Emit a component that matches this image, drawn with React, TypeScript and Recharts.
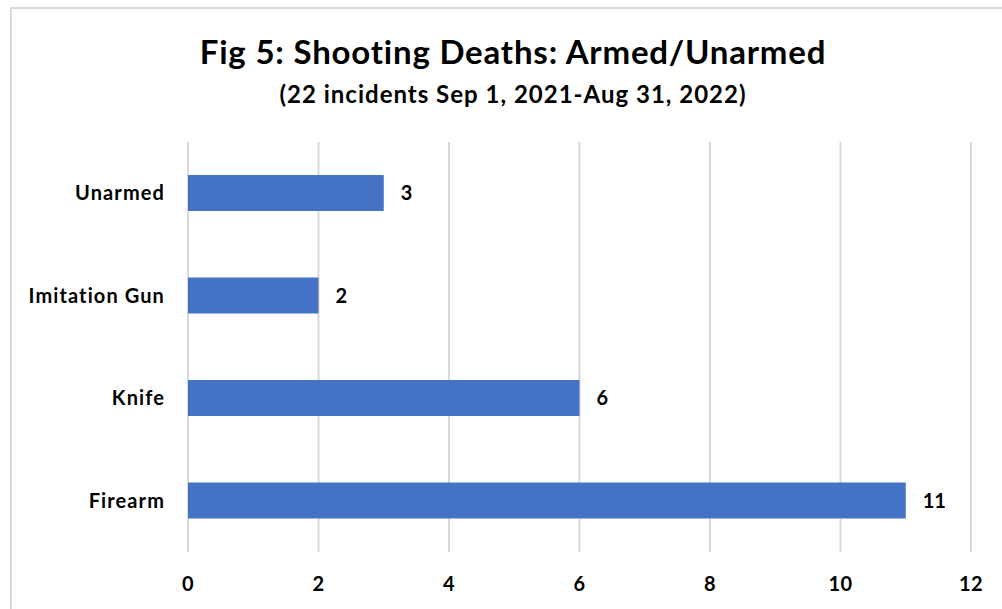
import { Bar, BarChart, CartesianGrid, LabelList, XAxis, YAxis } from "recharts"

const categories = ["Unarmed", "Imitation Gun", "Knife", "Firearm"]
const deaths = [3, 2, 6, 11]
const xTicks = [0, 2, 4, 6, 8, 10, 12]

const data = categories.map((name, i) => ({ name, deaths: deaths[i] }))

const FONT = "Lato, 'Open Sans', sans-serif"

export default function App() {
  return (
    <div style={{ position: "absolute", left: 0, top: 0, width: 1002, height: 609, background: "#fff", overflow: "hidden", fontFamily: FONT }}>
      {/* chart frame */}
      <div style={{ position: "absolute", left: 10, top: 7, width: 1100, height: 700, border: "2px solid #d9d9d9" }} />

      <div style={{ position: "absolute", left: 0, width: 1026, top: 29, textAlign: "center", fontSize: 33, fontWeight: 700, letterSpacing: 0.8, color: "#000", lineHeight: "44px" }}>
        Fig 5: Shooting Deaths: Armed/Unarmed
      </div>
      <div style={{ position: "absolute", left: 0, width: 1026, top: 79, textAlign: "center", fontSize: 24, fontWeight: 700, letterSpacing: 1, color: "#000", lineHeight: "30px" }}>
        (22 incidents Sep 1, 2021-Aug 31, 2022)
      </div>

      <div style={{ position: "absolute", left: 0, top: 0 }}>
        <BarChart
          width={1002}
          height={609}
          data={data}
          layout="vertical"
          margin={{ top: 142, right: 31, bottom: 17, left: 0 }}
        >
          <CartesianGrid horizontal={false} stroke="#d9d9d9" strokeWidth={2} />
          <XAxis
            type="number"
            domain={[0, 12]}
            ticks={xTicks}
            axisLine={false}
            tickLine={false}
            tickSize={0}
            tickMargin={25}
            height={40}
            tick={{ fill: "#000", fontSize: 20, fontWeight: 700, fontFamily: FONT, letterSpacing: 0.5 }}
          />
          <YAxis
            type="category"
            dataKey="name"
            width={188}
            axisLine={false}
            tickLine={false}
            tickSize={0}
            tickMargin={23}
            tick={{ fill: "#000", fontSize: 20, fontWeight: 700, fontFamily: FONT, letterSpacing: 1.1 }}
          />
          <Bar dataKey="deaths" fill="#4472c4" barSize={36} isAnimationActive={false}>
            <LabelList
              dataKey="deaths"
              position="right"
              offset={17}
              style={{ fill: "#000", fontSize: 20, fontWeight: 700, fontFamily: FONT }}
            />
          </Bar>
        </BarChart>
      </div>
    </div>
  )
}
